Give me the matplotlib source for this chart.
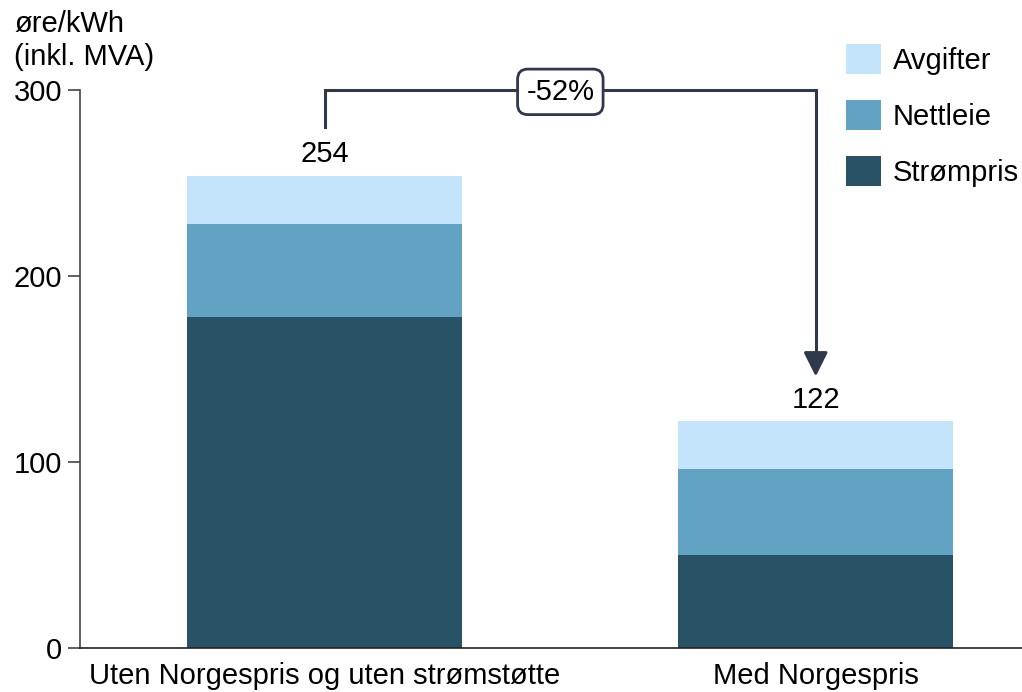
import matplotlib.pyplot as plt

plt.rcParams['font.family'] = ['Liberation Sans', 'DejaVu Sans']
plt.rcParams['font.size'] = 21

# Data (øre/kWh inkl. MVA)
kategorier = ["Uten Norgespris og uten strømstøtte", "Med Norgespris"]
strompris = [178, 50]
nettleie = [50, 46]
avgifter = [26, 26]
totaler = [254, 122]
endring = "-52%"

farger = {"Strømpris": "#285266", "Nettleie": "#62a3c4", "Avgifter": "#c3e4fb"}
linjefarge = "#2e3a4b"

fig = plt.figure(figsize=(10.22, 6.92), dpi=100)
ax = fig.add_axes([80 / 1022, 44 / 692, 942 / 1022, 558 / 692])

x = [0, 1]
bw = 0.56
b1 = ax.bar(x, strompris, bw, color=farger["Strømpris"], label="Strømpris")
bunn = [s for s in strompris]
b2 = ax.bar(x, nettleie, bw, bottom=bunn, color=farger["Nettleie"], label="Nettleie")
bunn = [s + n for s, n in zip(strompris, nettleie)]
b3 = ax.bar(x, avgifter, bw, bottom=bunn, color=farger["Avgifter"], label="Avgifter")

for xi, t in zip(x, totaler):
    ax.text(xi, t + 4, str(t), ha="center", va="bottom")

ax.set_xlim(-0.498, 1.42)
ax.set_ylim(0, 300)
ax.set_yticks([0, 100, 200, 300])
ax.set_xticks(x)
ax.set_xticklabels(kategorier)
ax.tick_params(axis="y", length=9, width=1.2, color="#444444", pad=4)
ax.tick_params(axis="x", length=0, pad=10)
for s in ["top", "right"]:
    ax.spines[s].set_visible(False)
ax.spines["left"].set_color("#444444")
ax.spines["left"].set_linewidth(1.2)
ax.spines["bottom"].set_color("#222222")
ax.spines["bottom"].set_linewidth(1.2)

# bracket with arrow from bar 1 to bar 2
ax.plot([0, 0, 1, 1], [280, 300, 300, 153], color=linjefarge, lw=2.2,
        clip_on=False, solid_joinstyle="miter")
ax.annotate("", xy=(1, 146), xytext=(1, 156),
            arrowprops=dict(arrowstyle="-|>,head_width=0.35,head_length=0.7",
                            color=linjefarge, lw=2.2, shrinkA=0, shrinkB=0))
ax.text(0.48, 299, endring, ha="center", va="center",
        bbox=dict(boxstyle="round,pad=0.3,rounding_size=0.35", fc="white",
                  ec=linjefarge, lw=2))

fig.text(14 / 1022, 1 - 10 / 692, "øre/kWh\n(inkl. MVA)", ha="left", va="top",
         linespacing=1.22)

ax.legend(handles=[b3, b2, b1], loc="upper left",
          bbox_to_anchor=(826 / 1022, 1 - 24 / 692), bbox_transform=fig.transFigure,
          frameon=False, handlelength=1.2, handleheight=1.2, labelspacing=0.86,
          handletextpad=0.38, borderpad=0.2)

fig.savefig("out.png", dpi=100)
